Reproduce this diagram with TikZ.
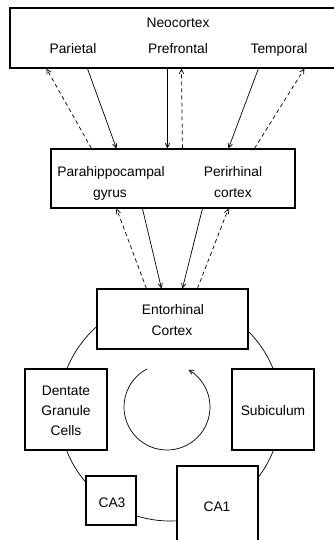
\documentclass[tikz,border=0pt]{standalone}
\usepackage{fontspec}
\setmainfont{Liberation Sans}
\usetikzlibrary{arrows.meta}
\begin{document}
\begin{tikzpicture}[x=1pt,y=1pt,
  boxwh/.style 2 args={draw, fill=white, line width=1.1pt, minimum width=#1, minimum height=#2, inner sep=0pt},
  lbl/.style={anchor=base, inner sep=0pt, font=\fontsize{13.8}{16}\selectfont},
  conn/.style={line width=0.7pt, -{Straight Barb[length=4.5pt,width=4.5pt]}},
  fb/.style={conn, dash pattern=on 4pt off 3pt},
  ring/.style={line width=0.7pt}]
\useasboundingbox (0,0) rectangle (334,-540);
\clip (0,0) rectangle (334,-540);
% hippocampal loop
\draw[ring] (170,-410) circle[radius=111];
% boxes
\node[boxwh={330}{60}] (neo) at (175,-38) {};
\node[boxwh={244}{59}] (para) at (173,-178.5) {};
\node[boxwh={151}{60}] (ent) at (172.5,-319) {};
\node[boxwh={82}{81}] (dg) at (66,-409.5) {};
\node[boxwh={82}{81}] (sub) at (273,-409.5) {};
\node[boxwh={50}{49}] (ca3) at (111,-500.5) {};
\node[boxwh={81}{104}] (ca1) at (217.5,-518) {};
% labels
\node[lbl] (tneo) at (178,-28) {Neocortex};
\node[lbl] (tpar) at (73,-54) {Parietal};
\node[lbl] (tpre) at (178,-54) {Prefrontal};
\node[lbl] (ttem) at (279,-54) {Temporal};
\node[lbl] (tph1) at (111,-176) {Parahippocampal};
\node[lbl] (tph2) at (110,-197) {gyrus};
\node[lbl] (tpr1) at (233,-176) {Perirhinal};
\node[lbl] (tpr2) at (233,-197) {cortex};
\node[lbl] (te1) at (173,-314) {Entorhinal};
\node[lbl] (te2) at (172,-335) {Cortex};
\node[lbl] (td1) at (66,-395) {Dentate};
\node[lbl] (td2) at (66,-415) {Granule};
\node[lbl] (td3) at (66,-435) {Cells};
\node[lbl] (ts) at (273,-415) {Subiculum};
\node[lbl] (t3) at (112,-507) {CA3};
\node[lbl] (t1) at (217,-511) {CA1};
% neocortex <-> parahippocampal / perirhinal
\draw[fb] ([xshift=41]para.north west) -- ([xshift=37]neo.south west);
\draw[conn] ([xshift=78]neo.south west) -- ([xshift=66]para.north west);
\draw[conn] ([xshift=158]neo.south west) -- ([xshift=117]para.north west);
\draw[fb] ([xshift=132]para.north west) -- ([xshift=172]neo.south west);
\draw[conn] ([xshift=249]neo.south west) -- ([xshift=178]para.north west);
\draw[fb] ([xshift=204]para.north west) -- ([xshift=295]neo.south west);
% parahippocampal / perirhinal <-> entorhinal
\draw[fb] ([xshift=50]ent.north west) -- ([xshift=66]para.south west);
\draw[conn] ([xshift=92]para.south west) -- ([xshift=65]ent.north west);
\draw[conn] ([xshift=152]para.south west) -- ([xshift=86]ent.north west);
\draw[fb] ([xshift=101]ent.north west) -- ([xshift=178]para.south west);
% circulation arrow
\draw[ring, -{Straight Barb[length=4.5pt,width=4.5pt]}] (167,-407) ++(118:43) arc[start angle=118, end angle=420, radius=43];
\end{tikzpicture}
\end{document}
